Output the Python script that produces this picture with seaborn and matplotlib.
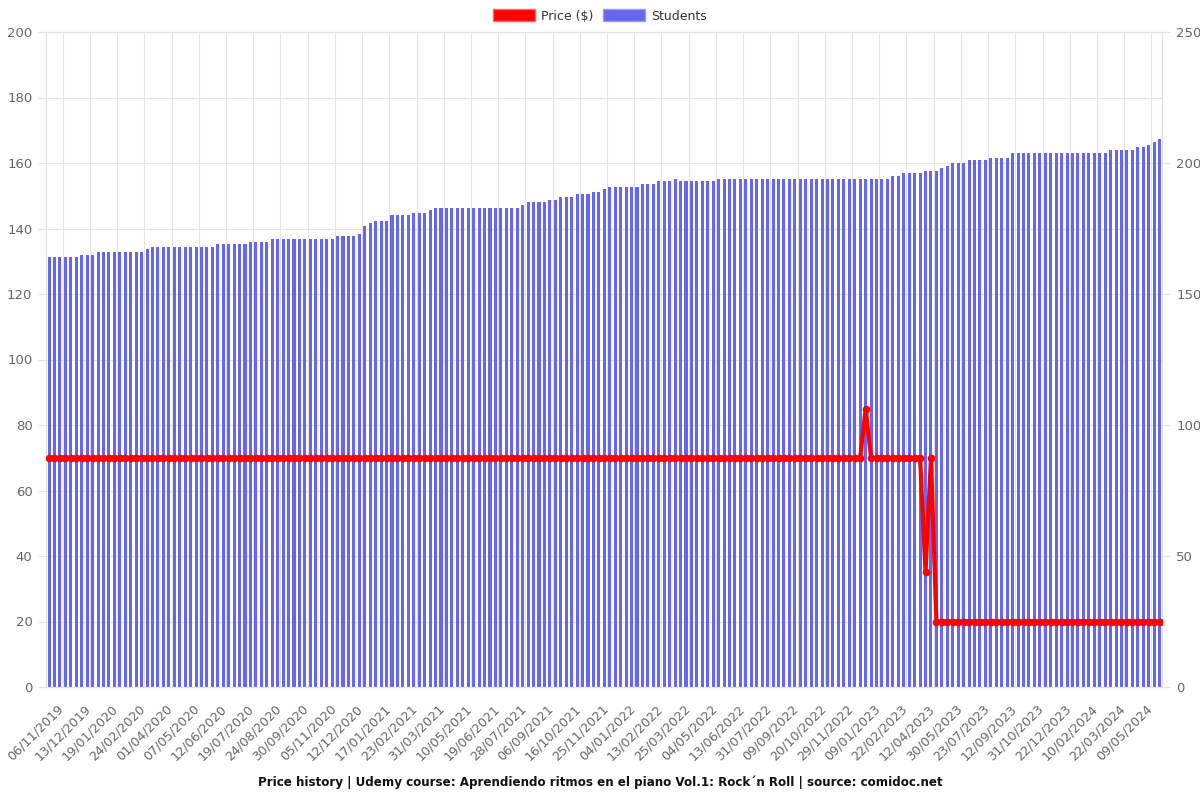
import numpy as np
import pandas as pd
import matplotlib
matplotlib.use("Agg")
import matplotlib.pyplot as plt
import matplotlib.transforms as mtransforms
from matplotlib.patches import Patch
import seaborn as sns

tick_labels = ["06/11/2019", "13/12/2019", "19/01/2020", "24/02/2020", "01/04/2020",
               "07/05/2020", "12/06/2020", "19/07/2020", "24/08/2020", "30/09/2020",
               "05/11/2020", "12/12/2020", "17/01/2021", "23/02/2021", "31/03/2021",
               "10/05/2021", "19/06/2021", "28/07/2021", "06/09/2021", "16/10/2021",
               "25/11/2021", "04/01/2022", "13/02/2022", "25/03/2022", "04/05/2022",
               "13/06/2022", "31/07/2022", "09/09/2022", "20/10/2022", "29/11/2022",
               "09/01/2023", "22/02/2023", "12/04/2023", "30/05/2023", "23/07/2023",
               "12/09/2023", "31/10/2023", "22/12/2023", "10/02/2024", "22/03/2024",
               "09/05/2024"]

students = [
    164, 164, 164, 164, 164, 164, 165, 165, 165, 166,
    166, 166, 166, 166, 166, 166, 166, 166, 167, 168,
    168, 168, 168, 168, 168, 168, 168, 168, 168, 168,
    168, 169, 169, 169, 169, 169, 169, 170, 170, 170,
    170, 171, 171, 171, 171, 171, 171, 171, 171, 171,
    171, 171, 171, 172, 172, 172, 172, 173, 176, 177,
    178, 178, 178, 180, 180, 180, 180, 181, 181, 181,
    182, 183, 183, 183, 183, 183, 183, 183, 183, 183,
    183, 183, 183, 183, 183, 183, 183, 184, 185, 185,
    185, 185, 186, 186, 187, 187, 187, 188, 188, 188,
    189, 189, 190, 191, 191, 191, 191, 191, 191, 192,
    192, 192, 193, 193, 193, 194, 193, 193, 193, 193,
    193, 193, 193, 194, 194, 194, 194, 194, 194, 194,
    194, 194, 194, 194, 194, 194, 194, 194, 194, 194,
    194, 194, 194, 194, 194, 194, 194, 194, 194, 194,
    194, 194, 194, 194, 194, 195, 195, 196, 196, 196,
    196, 197, 197, 197, 198, 199, 200, 200, 200, 201,
    201, 201, 201, 202, 202, 202, 202, 204, 204, 204,
    204, 204, 204, 204, 204, 204, 204, 204, 204, 204,
    204, 204, 204, 204, 204, 205, 205, 205, 205, 205,
    206, 206, 207, 208, 209,
]

price = [
    70, 70, 70, 70, 70, 70, 70, 70, 70, 70,
    70, 70, 70, 70, 70, 70, 70, 70, 70, 70,
    70, 70, 70, 70, 70, 70, 70, 70, 70, 70,
    70, 70, 70, 70, 70, 70, 70, 70, 70, 70,
    70, 70, 70, 70, 70, 70, 70, 70, 70, 70,
    70, 70, 70, 70, 70, 70, 70, 70, 70, 70,
    70, 70, 70, 70, 70, 70, 70, 70, 70, 70,
    70, 70, 70, 70, 70, 70, 70, 70, 70, 70,
    70, 70, 70, 70, 70, 70, 70, 70, 70, 70,
    70, 70, 70, 70, 70, 70, 70, 70, 70, 70,
    70, 70, 70, 70, 70, 70, 70, 70, 70, 70,
    70, 70, 70, 70, 70, 70, 70, 70, 70, 70,
    70, 70, 70, 70, 70, 70, 70, 70, 70, 70,
    70, 70, 70, 70, 70, 70, 70, 70, 70, 70,
    70, 70, 70, 70, 70, 70, 70, 70, 70, 70,
    85, 70, 70, 70, 70, 70, 70, 70, 70, 70,
    70, 35, 70, 20, 20, 20, 20, 20, 20, 20,
    20, 20, 20, 20, 20, 20, 20, 20, 20, 20,
    20, 20, 20, 20, 20, 20, 20, 20, 20, 20,
    20, 20, 20, 20, 20, 20, 20, 20, 20, 20,
    20, 20, 20, 20, 20,
]

n = len(students)
idx = list(range(n))
df = pd.DataFrame({"i": idx, "students": students, "price": price})

sns.set_style("white")
plt.rcParams["font.family"] = ["DejaVu Sans"]

BAR = "#6666f0"
GRID = "#e3e3e3"
TXT = "#666666"

fig = plt.figure(figsize=(12, 8), dpi=100)
ax = fig.add_axes([0.0386, 0.14125, 0.9300, 0.81875])

sns.barplot(data=df, x="i", y="students", ax=ax, color=BAR, saturation=1,
            width=0.56, order=idx, zorder=2, edgecolor="none", linewidth=0)
ax.set_xlim(-0.5, n - 0.5)
ax.set_ylim(0, 250)
ax.set_xlabel("")
ax.set_ylabel("")

ax2 = ax.twinx()
sns.lineplot(data=df, x="i", y="price", ax=ax2, color="red", linewidth=3,
             marker="o", markersize=5.5, markeredgewidth=0, zorder=5)
ax2.set_ylim(0, 200)
ax2.set_xlim(-0.5, n - 0.5)
ax2.set_xlabel("")
ax2.set_ylabel("")

# bars axis: ticks on the right; price axis: ticks on the left
ax.yaxis.tick_right()
ax.yaxis.set_label_position("right")
ax2.yaxis.tick_left()
ax2.yaxis.set_label_position("left")

ax.set_yticks(range(0, 251, 50))
ax.set_yticks(np.arange(0, 251, 25), minor=True)
ax.tick_params(axis="y", which="minor", length=0, labelright=False, labelleft=False)
ax.tick_params(axis="y", which="major", length=6, color=GRID, labelsize=9.5,
               labelcolor=TXT, pad=4, labelright=True, labelleft=False,
               right=True, left=False)
ax.grid(True, axis="y", which="both", color=GRID, linewidth=0.8)
ticks_pos = [2.5 + 5 * k for k in range(len(tick_labels))]
ax.set_xticks(ticks_pos)
ax.set_xticklabels(tick_labels, rotation=45, ha="right", rotation_mode="anchor")
ax.tick_params(axis="x", length=7, color=GRID, labelsize=9.2, labelcolor=TXT, pad=3)
ax.grid(True, axis="x", color=GRID, linewidth=0.8)
ax.set_axisbelow(True)
shift = mtransforms.ScaledTranslation(-4 / 72, -1 / 72, fig.dpi_scale_trans)
for lab in ax.get_xticklabels():
    lab.set_transform(lab.get_transform() + shift)

ax2.set_yticks(range(0, 201, 20))
ax2.tick_params(axis="y", length=6, color=GRID, labelsize=9.5, labelcolor=TXT, pad=4,
                labelleft=True, labelright=False, left=True, right=False)

for a in (ax, ax2):
    for s in a.spines.values():
        s.set_color(GRID)
        s.set_linewidth(0.8)

handles = [Patch(facecolor="red", edgecolor="#ff6666", linewidth=1),
           Patch(facecolor=BAR, edgecolor="#9999f5", linewidth=1)]
fig.legend(handles, ["Price ($)", "Students"], loc="center",
           bbox_to_anchor=(0.5, 0.98), ncol=2, frameon=False, fontsize=9,
           handlelength=3.3, handleheight=1.05, columnspacing=0.8,
           handletextpad=0.5, labelcolor="#333333")

fig.text(0.5, 0.022,
         "Price history | Udemy course: Aprendiendo ritmos en el piano Vol.1: Rock´n Roll | source: comidoc.net",
         ha="center", va="center", fontsize=8.6, fontweight="bold", color="#111111")

fig.savefig("out.png", dpi=100)
